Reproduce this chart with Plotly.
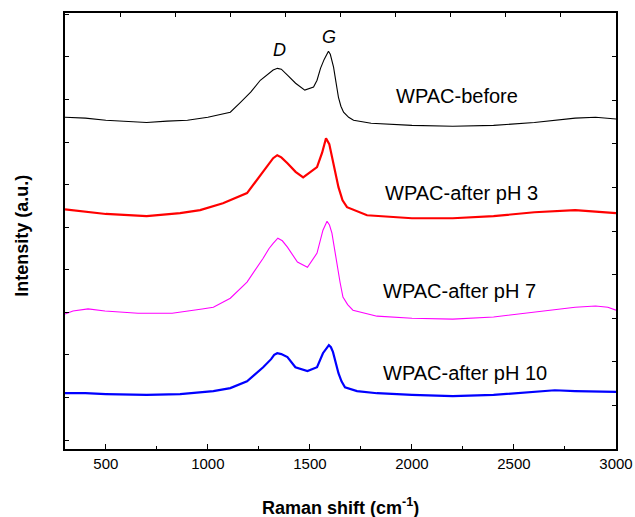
import plotly.graph_objects as go

# Raman shift (cm-1) sample positions per series, with intensities (a.u., stacked)
x_before = [300, 400, 500, 600, 700, 800, 900, 1000, 1050, 1110, 1160, 1210, 1257, 1300, 1320, 1341,
            1360, 1390, 1430, 1475, 1518, 1535, 1552, 1570, 1591, 1600, 1616, 1628, 1640, 1652, 1665,
            1690, 1714, 1800, 2000, 2200, 2400, 2600, 2800, 2900, 3000]
y_before = [7.58, 7.56, 7.51, 7.49, 7.46, 7.49, 7.51, 7.58, 7.63, 7.70, 7.93, 8.17, 8.45, 8.62, 8.69, 8.73,
            8.71, 8.57, 8.38, 8.22, 8.29, 8.45, 8.73, 8.94, 9.13, 9.06, 8.76, 8.40, 8.05, 7.84, 7.70,
            7.58, 7.51, 7.44, 7.39, 7.37, 7.39, 7.46, 7.56, 7.58, 7.54]

x_ph3 = [300, 500, 700, 864, 962, 1074, 1192, 1256, 1300, 1320, 1340, 1360, 1390, 1430, 1467, 1535, 1560,
         1579, 1595, 1608, 1620, 1640, 1660, 1682, 1780, 2000, 2200, 2400, 2600, 2800, 3000]
y_ph3 = [5.42, 5.31, 5.26, 5.33, 5.40, 5.56, 5.80, 6.22, 6.50, 6.62, 6.69, 6.64, 6.50, 6.30, 6.17, 6.41, 6.75,
         7.09, 6.95, 6.64, 6.34, 5.94, 5.63, 5.47, 5.28, 5.21, 5.21, 5.26, 5.35, 5.40, 5.33]

x_ph7 = [300, 339, 413, 496, 658, 825, 972, 1027, 1110, 1192, 1271, 1300, 1320, 1343, 1365, 1390, 1439,
         1488, 1535, 1564, 1584, 1596, 1608, 1620, 1633, 1648, 1662, 1685, 1711, 1829, 2000, 2200, 2400,
         2600, 2800, 2900, 2960, 3000]
y_ph7 = [2.96, 3.03, 3.08, 3.03, 2.98, 2.98, 3.08, 3.12, 3.33, 3.71, 4.27, 4.50, 4.62, 4.74, 4.68, 4.53, 4.18,
         4.06, 4.39, 4.93, 5.14, 5.05, 4.86, 4.50, 4.06, 3.70, 3.36, 3.18, 3.05, 2.91, 2.86, 2.84, 2.89,
         3.00, 3.12, 3.15, 3.12, 3.05]

x_ph10 = [300, 400, 500, 700, 864, 1027, 1110, 1192, 1271, 1310, 1325, 1340, 1360, 1390, 1429, 1488, 1535,
          1564, 1593, 1603, 1613, 1625, 1640, 1655, 1672, 1731, 1829, 2000, 2200, 2400, 2600, 2700, 2800, 3000]
y_ph10 = [1.10, 1.10, 1.08, 1.06, 1.08, 1.15, 1.22, 1.38, 1.71, 1.90, 2.00, 2.04, 2.02, 1.95, 1.71, 1.62, 1.71,
          2.04, 2.23, 2.18, 2.07, 1.85, 1.57, 1.38, 1.24, 1.15, 1.10, 1.06, 1.03, 1.06, 1.13, 1.17, 1.15, 1.13]

series_names = ["WPAC-before", "WPAC-after pH 3", "WPAC-after pH 7", "WPAC-after pH 10"]
label_x = [2221, 2245, 2235, 2260]
label_y = [8.08, 5.80, 3.50, 1.57]
peak_labels = ["D", "G"]
peak_x = [1353, 1594]
peak_y = [9.15, 9.46]

colors = ["#000000", "#ff0000", "#ff00ff", "#0000ff"]
widths = [1.1, 2.2, 1.1, 2.2]
xs = [x_before, x_ph3, x_ph7, x_ph10]
ys = [y_before, y_ph3, y_ph7, y_ph10]

FONT = "Arial, Liberation Sans, sans-serif"

fig = go.Figure()
for name, x, y, c, w in zip(series_names, xs, ys, colors, widths):
    fig.add_trace(go.Scatter(x=x, y=y, mode="lines", name=name,
                             line=dict(color=c, width=w)))
# helper trace so the top/right frame axes are drawn
fig.add_trace(go.Scatter(x=[0, 10], y=[0, 10], xaxis="x2", yaxis="y2", mode="lines",
                         line=dict(width=0), hoverinfo="skip", showlegend=False))

annotations = []
for t, x, y in zip(series_names, label_x, label_y):
    annotations.append(dict(x=x, y=y, text=t, showarrow=False, xanchor="center", yanchor="middle",
                            font=dict(family=FONT, size=20, color="#000")))
for t, x, y in zip(peak_labels, peak_x, peak_y):
    annotations.append(dict(x=x, y=y, text="<i>" + t + "</i>", showarrow=False, xanchor="center",
                            yanchor="middle", font=dict(family=FONT, size=18, color="#000")))
annotations.append(dict(xref="paper", yref="paper", x=0.5, y=-0.133, text="<b>Raman shift (cm<sup>-1</sup>)</b>",
                        showarrow=False, xanchor="center", yanchor="middle",
                        font=dict(family=FONT, size=18, color="#000")))
annotations.append(dict(xref="paper", yref="paper", x=-0.078, y=0.489, text="<b>Intensity (a.u.)</b>",
                        showarrow=False, xanchor="center", yanchor="middle", textangle=-90,
                        font=dict(family=FONT, size=18, color="#000")))

frame = dict(showline=True, linecolor="#000", linewidth=1.6, showgrid=False, zeroline=False)

fig.update_layout(
    width=635, height=517,
    margin=dict(l=65, r=19, t=13, b=68),
    plot_bgcolor="white", paper_bgcolor="white",
    showlegend=False,
    font=dict(family=FONT, size=15, color="#000"),
    annotations=annotations,
    xaxis=dict(range=[300, 3000], tick0=500, dtick=500, ticks="inside", ticklen=5, tickwidth=1.2,
               tickcolor="#000", mirror=False, automargin=False,
               tickfont=dict(size=15, family=FONT),
               minor=dict(tick0=250, dtick=250, ticks="inside", ticklen=3, tickcolor="#000", showgrid=False),
               **frame),
    yaxis=dict(range=[-0.21, 10.03], tick0=0, dtick=1, ticks="inside", ticklen=4, tickwidth=1.2,
               tickcolor="#000", mirror=False, automargin=False, showticklabels=False, **frame),
    xaxis2=dict(range=[0, 10], dtick=1, ticks="inside", ticklen=4, tickwidth=1.2, tickcolor="#000",
                side="top", overlaying="x", showticklabels=False, automargin=False, **frame),
    yaxis2=dict(range=[0, 10], dtick=1, ticks="inside", ticklen=4, tickwidth=1.2, tickcolor="#000",
                side="right", overlaying="y", showticklabels=False, automargin=False, **frame),
)

fig.write_html("out.html")
